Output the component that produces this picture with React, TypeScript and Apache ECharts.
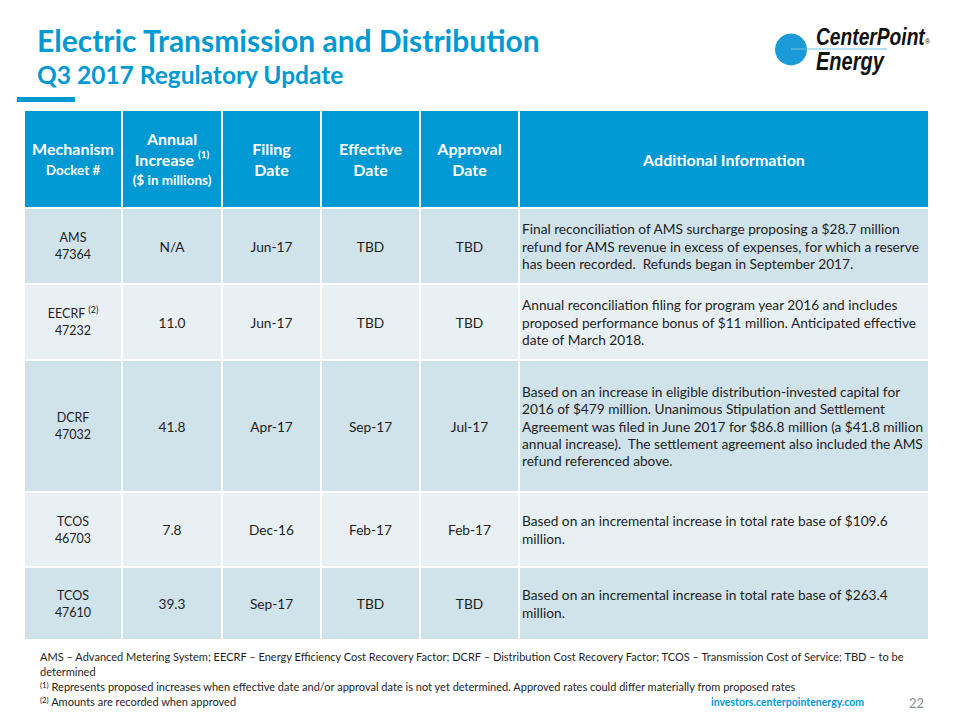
import React, { useEffect, useRef } from 'react';
import * as echarts from 'echarts';

// ---------- data ----------
const headerCells = [
  '{h|Mechanism}\n{m|Docket #}',
  '{h|Annual}\n{h|Increase }{sup|(1)}\n{m|($ in millions)}',
  '{h|Filing}\n{h|Date}',
  '{h|Effective}\n{h|Date}',
  '{h|Approval}\n{h|Date}',
  '{h|Additional Information}',
];
const mechanisms = ['AMS', 'EECRF', 'DCRF', 'TCOS', 'TCOS'];
const mechanismNotes = ['', '(2)', '', '', ''];
const dockets = ['47364', '47232', '47032', '46703', '47610'];
const annualIncrease = ['N/A', '11.0', '41.8', '7.8', '39.3'];
const filingDates = ['Jun-17', 'Jun-17', 'Apr-17', 'Dec-16', 'Sep-17'];
const effectiveDates = ['TBD', 'TBD', 'Sep-17', 'Feb-17', 'TBD'];
const approvalDates = ['TBD', 'TBD', 'Jul-17', 'Feb-17', 'TBD'];
const additionalInfo = [
  'Final reconciliation of AMS surcharge proposing a $28.7 million\nrefund for AMS revenue in excess of expenses, for which a reserve\nhas been recorded.  Refunds began in September 2017.',
  'Annual reconciliation filing for program year 2016 and includes\nproposed performance bonus of $11 million. Anticipated effective\ndate of March 2018.',
  'Based on an increase in eligible distribution-invested capital for\n2016 of $479 million. Unanimous Stipulation and Settlement\nAgreement was filed in June 2017 for $86.8 million (a $41.8 million\nannual increase).  The settlement agreement also included the AMS\nrefund referenced above.',
  'Based on an incremental increase in total rate base of $109.6\nmillion.',
  'Based on an incremental increase in total rate base of $263.4\nmillion.',
];
const footnoteLines = [
  'AMS – Advanced Metering System; EECRF – Energy Efficiency Cost Recovery Factor; DCRF – Distribution Cost Recovery Factor; TCOS – Transmission Cost of Service; TBD – to be',
  'determined',
  '{sup|(1)} Represents proposed increases when effective date and/or approval date is not yet determined. Approved rates could differ materially from proposed rates',
  '{sup|(2)} Amounts are recorded when approved',
];
const titleText = 'Electric Transmission and Distribution';
const subtitleText = 'Q3 2017 Regulatory Update';
const siteText = 'investors.centerpointenergy.com';
const pageNumber = '22';

// ---------- layout / style ----------
const FONT = 'Lato, "Noto Sans", sans-serif';
const BLUE = '#0099D4';
const ROW_A = '#D0E2EA';
const ROW_B = '#E8F0F4';
const TEXT = '#1E1E1E';
const COL_EDGES = [25, 123, 223, 322, 421, 520, 930];
const ROW_EDGES = [111, 209, 285, 361, 493, 568, 641];
const GAP = 2;

function cellText(c: number, r: number): string {
  if (r === 0) return headerCells[c];
  const i = r - 1;
  switch (c) {
    case 0:
      return mechanismNotes[i]
        ? `{a|${mechanisms[i]} }{sup|${mechanismNotes[i]}}\n{a|${dockets[i]}}`
        : `{a|${mechanisms[i]}}\n{a|${dockets[i]}}`;
    case 1: return annualIncrease[i];
    case 2: return filingDates[i];
    case 3: return effectiveDates[i];
    case 4: return approvalDates[i];
    default: return additionalInfo[i];
  }
}

const cellData: number[][] = [];
for (let r = 0; r <= mechanisms.length; r++) {
  for (let c = 0; c < headerCells.length; c++) cellData.push([c, r]);
}

export default function App() {
  const ref = useRef<HTMLDivElement>(null);
  useEffect(() => {
    if (!ref.current) return;
    const chart = echarts.init(ref.current, undefined, { renderer: 'svg' });
    const option: any = {
      animation: false,
      backgroundColor: '#ffffff',
      grid: { left: 0, right: 0, top: 0, bottom: 0 },
      xAxis: { type: 'value', min: 0, max: 960, show: false },
      yAxis: { type: 'value', min: 0, max: 720, inverse: true, show: false },
      series: [
        {
          type: 'custom',
          silent: true,
          clip: false,
          data: cellData,
          renderItem: (params: any, api: any) => {
            const c = api.value(0);
            const r = api.value(1);
            const p0 = api.coord([COL_EDGES[c], ROW_EDGES[r]]);
            const p1 = api.coord([COL_EDGES[c + 1] - GAP, ROW_EDGES[r + 1] - GAP]);
            const w = p1[0] - p0[0];
            const h = p1[1] - p0[1];
            const fill = r === 0 ? BLUE : r % 2 === 1 ? ROW_A : ROW_B;
            const isInfo = c === 5 && r > 0;
            const tx = isInfo ? p0[0] + 2 : p0[0] + w / 2;
            const ty = p0[1] + h / 2;
            const textStyle: any = {
              text: cellText(c, r),
              fontFamily: FONT,
              align: isInfo ? 'left' : 'center',
              verticalAlign: 'middle',
            };
            if (r === 0) {
              Object.assign(textStyle, {
                fill: '#ffffff',
                rich: {
                  h: { fontFamily: FONT, fontSize: 16, fontWeight: 'bold', fill: '#ffffff', lineHeight: 21 },
                  m: { fontFamily: FONT, fontSize: 13.5, fontWeight: 'bold', fill: '#ffffff', lineHeight: 21 },
                  sup: { fontFamily: FONT, fontSize: 10, fontWeight: 'bold', fill: '#ffffff', verticalAlign: 'top' },
                },
              });
            } else if (c === 0) {
              Object.assign(textStyle, {
                fill: TEXT,
                rich: {
                  a: { fontFamily: FONT, fontSize: 12.5, fill: TEXT, lineHeight: 17 },
                  sup: { fontFamily: FONT, fontSize: 9, fill: TEXT, verticalAlign: 'top' },
                },
              });
            } else {
              Object.assign(textStyle, {
                fill: TEXT,
                fontSize: 13.7,
                lineHeight: 17.3,
              });
            }
            return {
              type: 'group',
              children: [
                { type: 'rect', shape: { x: p0[0], y: p0[1], width: w, height: h }, style: { fill } },
                { type: 'text', x: tx, y: ty, style: textStyle },
              ],
            };
          },
        },
      ],
      graphic: [
        { type: 'text', x: 37, y: 40, style: { text: titleText, fill: BLUE, fontFamily: FONT, fontWeight: 'bold', fontSize: 30, align: 'left', verticalAlign: 'middle' } },
        { type: 'text', x: 37, y: 74, style: { text: subtitleText, fill: BLUE, fontFamily: FONT, fontWeight: 'bold', fontSize: 24.5, align: 'left', verticalAlign: 'middle' } },
        { type: 'rect', shape: { x: 17, y: 97, width: 58, height: 5 }, style: { fill: BLUE } },
        // logo
        { type: 'circle', shape: { cx: 791, cy: 49.5, r: 16 }, style: { fill: '#1A9AD6' } },
        { type: 'line', shape: { x1: 791, y1: 49, x2: 887, y2: 49 }, style: { stroke: '#6CC0E5', lineWidth: 1.2 } },
        { type: 'text', x: 816, y: 37, scaleX: 0.8, style: { text: 'CenterPoint', fill: '#111111', fontFamily: '"Liberation Sans", Arial, sans-serif', fontWeight: 'bold', fontStyle: 'italic', fontSize: 24, align: 'left', verticalAlign: 'middle' } },
        { type: 'text', x: 925, y: 41, style: { text: '®', fill: '#111111', fontFamily: '"Liberation Sans", Arial, sans-serif', fontSize: 7, align: 'left', verticalAlign: 'middle' } },
        { type: 'text', x: 816, y: 62, scaleX: 0.8, style: { text: 'Energy', fill: '#111111', fontFamily: '"Liberation Sans", Arial, sans-serif', fontWeight: 'bold', fontStyle: 'italic', fontSize: 25, align: 'left', verticalAlign: 'middle' } },
        // footnotes
        ...footnoteLines.map((t, i) => ({
          type: 'text',
          x: 40,
          y: 656 + i * 15,
          scaleX: 0.92,
          style: {
            text: t,
            fill: TEXT,
            fontFamily: FONT,
            fontSize: 12,
            align: 'left',
            verticalAlign: 'middle',
            rich: {
              sup: { fontFamily: FONT, fontSize: 8.5, fill: TEXT, verticalAlign: 'top' },
            },
          },
        })),
        { type: 'text', x: 711, y: 702, style: { text: siteText, fill: BLUE, fontFamily: FONT, fontWeight: 'bold', fontSize: 10.5, align: 'left', verticalAlign: 'middle' } },
        { type: 'text', x: 924, y: 703, style: { text: pageNumber, fill: '#8C8C8C', fontFamily: FONT, fontSize: 13, align: 'right', verticalAlign: 'middle' } },
      ],
    };
    chart.setOption(option);
    return () => chart.dispose();
  }, []);
  return (
    <div
      ref={ref}
      style={{ position: 'fixed', left: 0, top: 0, width: 960, height: 720, background: '#fff' }}
    />
  );
}
